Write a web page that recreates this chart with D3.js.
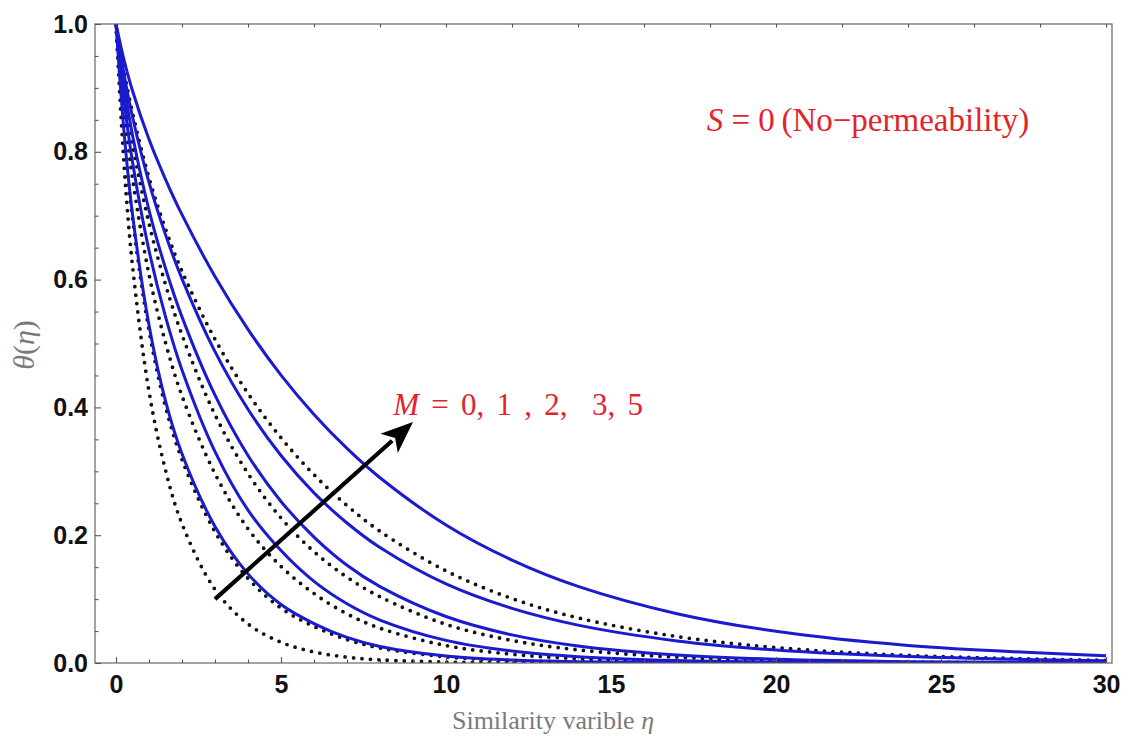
<!DOCTYPE html>
<html><head><meta charset="utf-8">
<script src="https://cdn.jsdelivr.net/npm/d3@7"></script>
<style>
html,body{margin:0;padding:0;background:#fff;}
svg{display:block;}
text{white-space:pre;}
</style></head>
<body>
<svg id="chart" width="1132" height="752"></svg>
<script>
// ---- data ----
const eta = [0, 0.25, 0.5, 1, 1.5, 2, 3, 4, 5, 6, 7, 8, 10, 12, 14, 17, 20, 24, 30];

// solid blue curves, M = 0, 1, 2, 3, 5 (inner to outer)
const solidM0 = [1, 0.8274, 0.7024, 0.5291, 0.4103, 0.3275, 0.2137, 0.1395, 0.0915, 0.0617, 0.0400, 0.0259, 0.01088, 0.00457, 0.00192, 0.00052, 0.00014, 0.00003, 0];
const solidM1 = [1, 0.8778, 0.7844, 0.6455, 0.5420, 0.4586, 0.3309, 0.2393, 0.1759, 0.1277, 0.0927, 0.0672, 0.0354, 0.01866, 0.00981, 0.00376, 0.00143, 0.0004, 0.00006];
const solidM2 = [1, 0.9026, 0.8262, 0.7088, 0.6178, 0.5417, 0.4191, 0.3247, 0.2528, 0.1971, 0.1530, 0.1196, 0.0728, 0.0440, 0.0266, 0.01253, 0.00588, 0.00214, 0.00048];
const solidM3 = [1, 0.9197, 0.8548, 0.7521, 0.6704, 0.6012, 0.4873, 0.3971, 0.3247, 0.2663, 0.2191, 0.1807, 0.1237, 0.0854, 0.0593, 0.0346, 0.0203, 0.0101, 0.0035];
const solidM5 = [1, 0.9425, 0.8955, 0.8196, 0.7570, 0.7016, 0.6049, 0.5220, 0.4506, 0.3890, 0.3358, 0.2899, 0.2160, 0.1610, 0.1199, 0.0772, 0.0496, 0.0275, 0.0114];

// dotted black curves
const dottedM0 = [1, 0.7752, 0.6221, 0.4251, 0.3021, 0.2179, 0.1151, 0.0611, 0.0325, 0.01725, 0.00917, 0.00487, 0.00137, 0.00039, 0.00011, 0, 0, 0, 0];
const dottedM1 = [1, 0.8235, 0.6963, 0.5207, 0.4013, 0.3183, 0.2052, 0.1324, 0.0859, 0.0572, 0.0367, 0.0235, 0.00962, 0.00395, 0.00162, 0.00043, 0.00011, 0.00002, 0];
const dottedM2 = [1, 0.8624, 0.7589, 0.6082, 0.5014, 0.4182, 0.2963, 0.2101, 0.1512, 0.1087, 0.0769, 0.0545, 0.0273, 0.01368, 0.00684, 0.00243, 0.00086, 0.00021, 0.00003];
const dottedM3 = [1, 0.8947, 0.8126, 0.6880, 0.5925, 0.5136, 0.3886, 0.2965, 0.2270, 0.1743, 0.1343, 0.1037, 0.0605, 0.0353, 0.0206, 0.00921, 0.0041, 0.00139, 0.00028];
const dottedM5 = [1, 0.9248, 0.8615, 0.7595, 0.6795, 0.6132, 0.5067, 0.4219, 0.3525, 0.2947, 0.2464, 0.2061, 0.1442, 0.1009, 0.0706, 0.0414, 0.0242, 0.0119, 0.0040];

const solidSeries = [solidM0, solidM1, solidM2, solidM3, solidM5];
const dottedSeries = [dottedM0, dottedM1, dottedM2, dottedM3, dottedM5];

const xMajorTicks = [0, 5, 10, 15, 20, 25, 30];
const yMajorTicks = [0, 0.2, 0.4, 0.6, 0.8, 1.0];
const yTickLabels = ["0.0", "0.2", "0.4", "0.6", "0.8", "1.0"];

const arrowFrom = [3.0, 0.10];
const arrowTo = [9.0, 0.377];
const labelS = {eta: 17.9, theta: 0.833};
const labelM = {eta: 8.4, theta: 0.388};

// ---- drawing ----
const svg = d3.select("#chart");
const x = d3.scaleLinear().domain([-0.636, 30.18]).range([95, 1112]);
const y = d3.scaleLinear().domain([0, 1]).range([663, 24]);

const xMinor = d3.range(0, 31, 1).filter(v => v % 5 !== 0);
const yMinor = d3.range(0, 1.0001, 0.05).filter(v => Math.abs(v * 5 - Math.round(v * 5)) > 1e-6);

svg.append("clipPath").attr("id", "clip").append("rect")
  .attr("x", 95).attr("y", 24).attr("width", 1112 - 95).attr("height", 663 - 24);

const line = d3.line().x((d, i) => x(eta[i])).y(d => y(d)).curve(d3.curveCatmullRom.alpha(0.5));

const plot = svg.append("g").attr("clip-path", "url(#clip)");

dottedSeries.forEach(s => {
  plot.append("path").datum(s).attr("d", line)
    .attr("fill", "none").attr("stroke", "#111")
    .attr("stroke-width", 3.8).attr("stroke-linecap", "round")
    .attr("stroke-dasharray", "0,8.5");
});
solidSeries.forEach(s => {
  plot.append("path").datum(s).attr("d", line)
    .attr("fill", "none").attr("stroke", "#1a1acf")
    .attr("stroke-width", 3);
});

// frame
svg.append("rect").attr("x", 95).attr("y", 24).attr("width", 1112 - 95).attr("height", 663 - 24)
  .attr("fill", "none").attr("stroke", "#666").attr("stroke-width", 1.2);

// axes
const axFont = "'Liberation Sans', Arial, sans-serif";
const gx = svg.append("g").attr("transform", "translate(0,663)")
  .call(d3.axisBottom(x).tickValues(xMajorTicks).tickSizeInner(-6).tickSizeOuter(0).tickPadding(12).tickFormat(d3.format("d")));
const gxm = svg.append("g").attr("transform", "translate(0,663)")
  .call(d3.axisBottom(x).tickValues(xMinor).tickSizeInner(-3.5).tickSizeOuter(0).tickFormat(""));
const gy = svg.append("g").attr("transform", "translate(95,0)")
  .call(d3.axisLeft(y).tickValues(yMajorTicks).tickSizeInner(-6).tickSizeOuter(0).tickPadding(7).tickFormat((d, i) => yTickLabels[i]));
const gym = svg.append("g").attr("transform", "translate(95,0)")
  .call(d3.axisLeft(y).tickValues(yMinor).tickSizeInner(-3.5).tickSizeOuter(0).tickFormat(""));
const gtop = svg.append("g").attr("transform", "translate(0,24)")
  .call(d3.axisTop(x).tickValues(d3.range(2, 31, 2)).tickSizeInner(-3.5).tickSizeOuter(0).tickFormat(""));

[gx, gxm, gy, gym, gtop].forEach(g => {
  g.select(".domain").remove();
  g.selectAll(".tick line").attr("stroke", "#555").attr("stroke-width", 1.1);
  g.selectAll("text").attr("font-family", axFont).attr("font-weight", "bold")
    .attr("font-size", 25).attr("fill", "#111");
});

// axis titles
const serif = "'Liberation Serif', 'Times New Roman', serif";
const xt = svg.append("text").attr("x", 553).attr("y", 729).attr("text-anchor", "middle")
  .attr("font-family", serif).attr("font-size", 26).attr("fill", "#7a7a7a");
xt.append("tspan").text("Similarity varible ");
xt.append("tspan").attr("font-style", "italic").text("\u03B7");

const yt = svg.append("text").attr("transform", "translate(34,345) rotate(-90)").attr("text-anchor", "middle")
  .attr("font-family", serif).attr("font-size", 30).attr("fill", "#7a7a7a");
yt.append("tspan").attr("font-style", "italic").text("\u03B8");
yt.append("tspan").text("(");
yt.append("tspan").attr("font-style", "italic").text("\u03B7");
yt.append("tspan").text(")");

// annotations
const red = "#e3232c";
const st = svg.append("text").attr("x", x(labelS.eta)).attr("y", y(labelS.theta))
  .attr("font-family", serif).attr("font-size", 33).attr("fill", red);
st.append("tspan").attr("font-style", "italic").text("S");
st.append("tspan").text(" = 0\u2009(No\u2212permeability)");

const mt = svg.append("text").attr("x", x(labelM.eta)).attr("y", y(labelM.theta))
  .attr("font-family", serif).attr("font-size", 31).attr("fill", red).attr("word-spacing", 4.5);
mt.append("tspan").attr("font-style", "italic").text("M");
mt.append("tspan").text(" = 0, 1 , 2,  3, 5");

// arrow
const x1 = x(arrowFrom[0]), y1 = y(arrowFrom[1]), x2 = x(arrowTo[0]), y2 = y(arrowTo[1]);
const ang = Math.atan2(y2 - y1, x2 - x1);
const headLen = 32, headW = 13;
const bx = x2 - headLen * Math.cos(ang), by = y2 - headLen * Math.sin(ang);
svg.append("line").attr("x1", x1).attr("y1", y1).attr("x2", bx + 4 * Math.cos(ang)).attr("y2", by + 4 * Math.sin(ang))
  .attr("stroke", "#000").attr("stroke-width", 4.2);
const px = -Math.sin(ang), py = Math.cos(ang);
const inset = 8;
svg.append("path").attr("d",
  `M${x2},${y2} L${bx + headW * px},${by + headW * py} L${bx + inset * Math.cos(ang)},${by + inset * Math.sin(ang)} L${bx - headW * px},${by - headW * py} Z`)
  .attr("fill", "#000");
</script>
</body></html>
